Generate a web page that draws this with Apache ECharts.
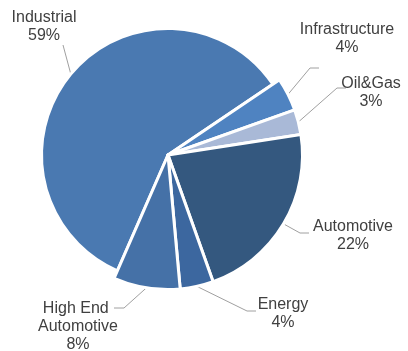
<!DOCTYPE html>
<html><head><meta charset="utf-8">
<script src="https://cdn.jsdelivr.net/npm/echarts@6/dist/echarts.min.js"></script>
<style>html,body{margin:0;padding:0;background:#fff}#c{width:408px;height:351px}</style>
</head><body><div id="c"></div>
<script>
// Data (clockwise from the top-right boundary)
const categories = ['Infrastructure', 'Oil&Gas', 'Automotive', 'Energy', 'High End Automotive', 'Industrial'];
const values = [4, 3, 22, 4, 8, 59];
const colors = ['#4f83c1', '#a9b9d7', '#34587f', '#3c679f', '#4571a7', '#4a79b1'];

// Label layout (text block centre, line bend, line end)
const labelCenter = [[347, 38.5], [371, 92.5], [353, 236], [283, 313.5], [78, 327], [44, 27]];
const lineBend = [[310, 68], [337, 88], [300, 233], [247, 311], [124, 308], [63, 45]];
const lineEnd = [[319, 68], [346, 88], [309, 233], [256, 311], [114, 308], [63, 45]];

const BIG = 'Industrial';
function build(showBig) {
  return categories.map((n, i) => {
    const vis = (n === BIG) === showBig;
    return {
      name: n, value: values[i],
      itemStyle: vis ? { color: colors[i], borderColor: '#fff', borderWidth: 3 } : { color: 'rgba(0,0,0,0)', borderWidth: 0 },
      label: vis ? (n === 'High End Automotive' ? { show: true, width: 95, overflow: 'break' } : { show: true }) : { show: false },
      labelLine: { show: vis }
    };
  });
}
function layoutFn(params) {
  const i = params.dataIndex;
  const p0 = params.labelLinePoints ? params.labelLinePoints[0] : lineBend[i];
  return {
    x: labelCenter[i][0], y: labelCenter[i][1],
    align: 'center', verticalAlign: 'middle',
    labelLinePoints: [p0, lineBend[i], lineEnd[i]]
  };
}
const common = {
  type: 'pie', center: [168, 155], startAngle: 34, clockwise: true,
  silent: true, animation: false, avoidLabelOverlap: false,
  label: { show: true, position: 'outside', formatter: p => p.name + '\n' + p.value + '%',
    color: '#404040', fontSize: 16, lineHeight: 18, fontFamily: 'Liberation Sans, Arial, sans-serif', align: 'center' },
  labelLine: { show: true, length: 10, length2: 8, lineStyle: { color: '#a0a0a0', width: 1 } },
  labelLayout: layoutFn
};
const chart = echarts.init(document.getElementById('c'), null, { renderer: 'canvas' });
chart.setOption({
  backgroundColor: '#fff',
  series: [
    Object.assign({}, common, { radius: [0, 126.5], data: build(true) }),
    Object.assign({}, common, { radius: [0, 134.5], data: build(false) })
  ]
});
</script></body></html>
